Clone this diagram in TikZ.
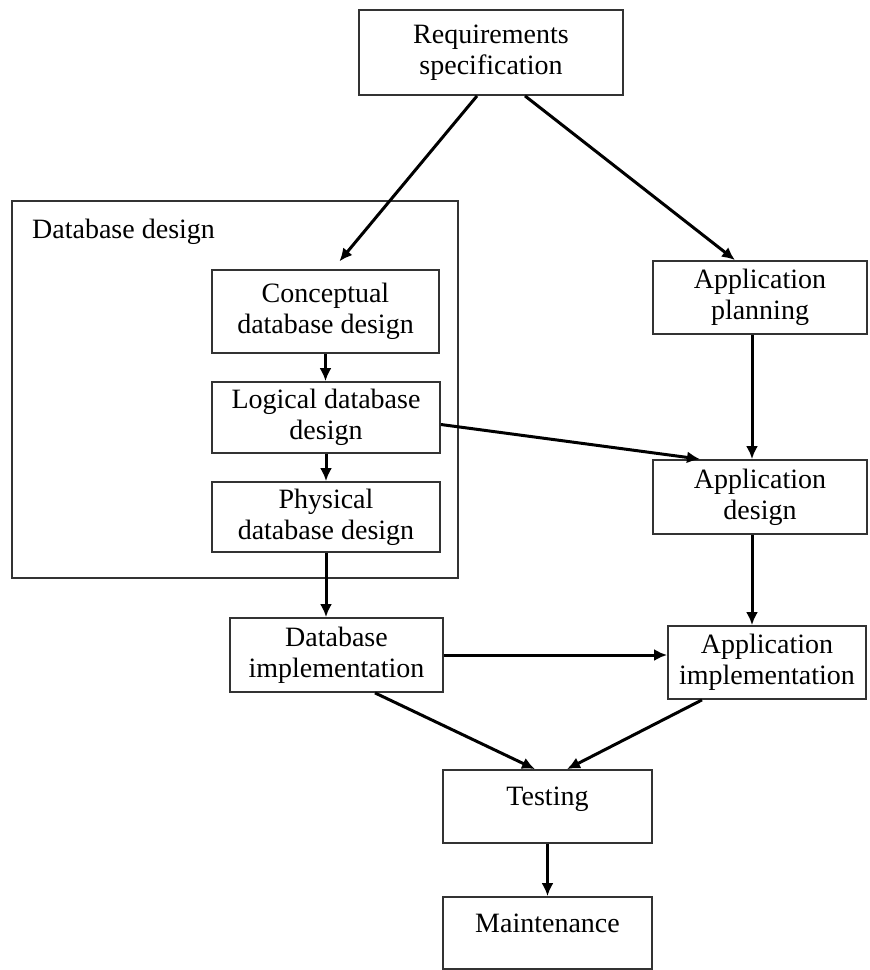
\documentclass[tikz,border=0pt]{standalone}
\usepackage{fontspec}
\setmainfont{Liberation Serif}
\usetikzlibrary{arrows.meta}

\begin{document}
\begin{tikzpicture}[
    x=1pt, y=-1pt,
    box/.style={draw=black!80, line width=1.8pt, inner sep=2pt, align=center,
        font=\fontsize{28}{31}\selectfont},
    topbox/.style={box, text depth=20pt},
    arrow/.style={-{Latex[length=13pt, width=12pt]}, line width=3pt, black},
    frame/.style={draw=black!80, line width=1.8pt}
]

% Fix the page size
\useasboundingbox (0,0) rectangle (870,970);

% Outer database design frame
\node[frame, minimum width=446pt, minimum height=377pt] (dbframe) at (235,389.5) {};
\node[anchor=west, inner sep=0pt, font=\fontsize{28}{31}\selectfont] (dblabel) at (32,232) {Database design};

% Boxes of the left column
\node[box, minimum width=264pt, minimum height=85pt] (req) at (491,52.5) {Requirements\\specification};
\node[box, minimum width=227pt, minimum height=83pt] (concept) at (325.5,311.5) {Conceptual\\database design};
\node[box, minimum width=228pt, minimum height=71pt] (logical) at (326,417.5) {Logical database\\design};
\node[box, minimum width=228pt, minimum height=70pt] (physical) at (326,517) {Physical\\database design};
\node[box, minimum width=213pt, minimum height=74pt] (dbimpl) at (336.5,655) {Database\\implementation};

% Boxes of the right column
\node[box, minimum width=214pt, minimum height=73pt] (appplan) at (760,297.5) {Application\\planning};
\node[box, minimum width=214pt, minimum height=74pt] (appdesign) at (760,497) {Application\\design};
\node[box, minimum width=198pt, minimum height=73pt] (appimpl) at (767,662.5) {Application\\implementation};

% Boxes at the bottom
\node[topbox, minimum width=209pt, minimum height=73pt] (testing) at (547.5,806.5) {Testing};
\node[topbox, minimum width=209pt, minimum height=72pt] (maint) at (547.5,933) {Maintenance};

% Arrows out of the requirements
\draw[arrow, shorten >=10pt] ([xshift=-14pt]req.south) -- ([xshift=7.5pt]concept.north);
\draw[arrow] ([xshift=34pt]req.south) -- ([xshift=-25pt]appplan.north);

% Straight arrows down using a loop
\foreach \a/\b in {concept/logical, logical/physical, physical/dbimpl, testing/maint} {
    \draw[arrow] (\a.south) -- (\a.south |- \b.north);
}
\draw[arrow] ([xshift=-8pt]appplan.south) -- ([xshift=-8pt]appplan.south |- appdesign.north);
\draw[arrow] ([xshift=-8pt]appdesign.south) -- ([xshift=-8pt]appdesign.south |- appimpl.north);

% Cross arrows
\draw[arrow] ([yshift=-7pt]logical.east) -- ([xshift=-60pt]appdesign.north);
\draw[arrow] (dbimpl.east) -- (dbimpl.east -| appimpl.west);
\draw[arrow] ([xshift=38.5pt]dbimpl.south) -- ([xshift=-12.5pt]testing.north);
\draw[arrow] ([xshift=-65pt]appimpl.south) -- ([xshift=19.5pt]testing.north);

\end{tikzpicture}
\end{document}
